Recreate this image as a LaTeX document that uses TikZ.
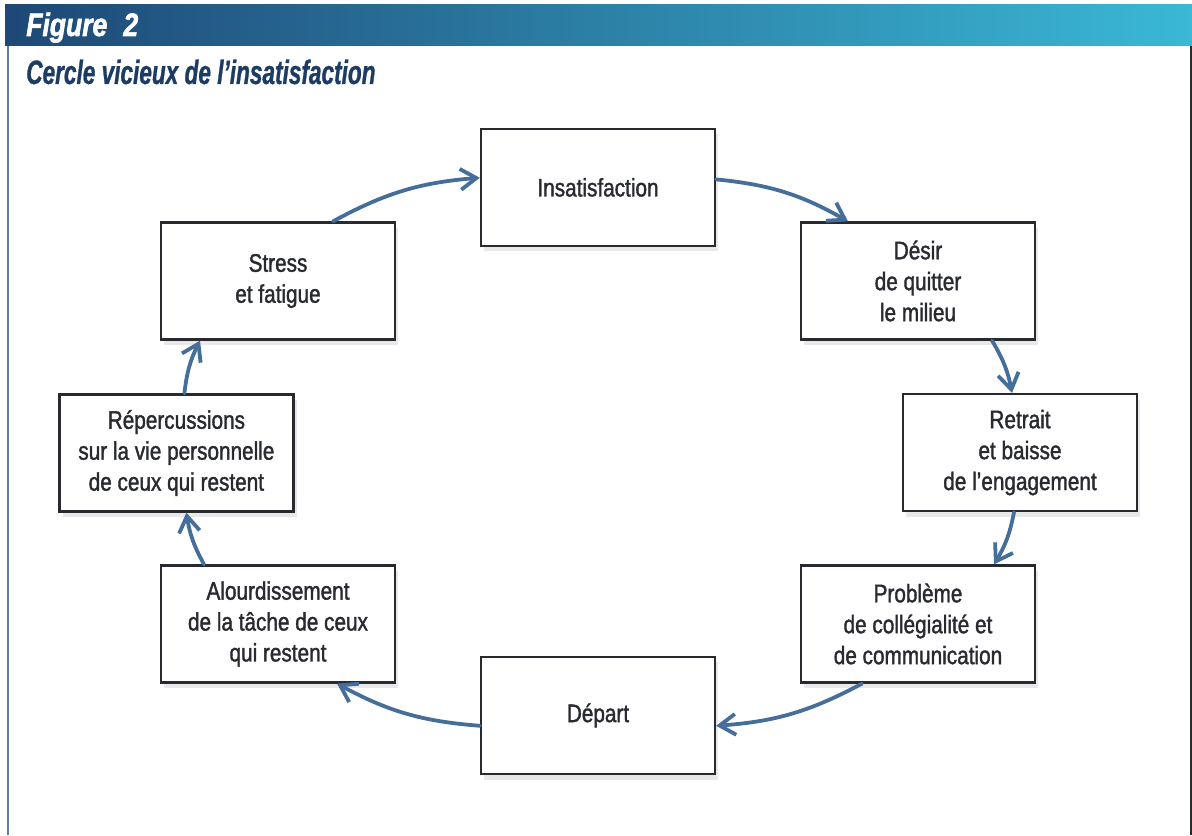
\documentclass[tikz,border=0pt]{standalone}
\usepackage{fontspec}
\setmainfont{Liberation Sans}[FakeStretch=0.82, FakeBold=1.4]
\newfontfamily\titlefont{Liberation Sans}[FakeStretch=0.67, FakeBold=0.8]
\newfontfamily\figfont{Liberation Sans}[FakeStretch=0.82, FakeBold=1.8]
\usetikzlibrary{arrows.meta,shadows}
\definecolor{barleft}{RGB}{30,72,118}
\definecolor{barright}{RGB}{58,184,214}
\definecolor{titleblue}{RGB}{28,60,100}
\definecolor{arrowblue}{RGB}{70,110,155}
\definecolor{boxline}{RGB}{40,42,48}
\definecolor{frameblue}{RGB}{95,125,160}

\begin{document}
\begin{tikzpicture}[every node/.style={scale=1},
    stage/.style={draw=boxline, line width=1.6pt, fill=white, minimum width=5.85cm,
      minimum height=2.925cm, align=center, text=boxline, font=\fontsize{18}{22}\selectfont,
      drop shadow={opacity=0.18, shadow xshift=0.08cm, shadow yshift=-0.14cm}},
    cycle/.style={draw=arrowblue, line width=2.7pt, line cap=round,
      -{Straight Barb[length=4mm, width=5.2mm, line width=2.7pt]}}]

      \useasboundingbox (0,0) rectangle (29.8,20.875);
      \shade[left color=barleft, right color=barright] (0.125,19.725) rectangle (29.8,20.75);
      \draw[frameblue, line width=1.5pt] (0.19,19.725) -- (0.19,0);
      \draw[boxline, line width=1pt] (29.77,19.725) -- (29.77,0);
      \node[anchor=base west, text=white, inner sep=0pt, font=\figfont\fontsize{23}{26}\selectfont\bfseries\itshape]
        (fig) at (0.65,19.975) {Figure\enspace 2};
      \node[anchor=base west, text=titleblue, font=\titlefont\fontsize{24}{28}\selectfont\bfseries\itshape, inner sep=0pt]
        (title) at (0.65,18.775) {Cercle vicieux de l’insatisfaction};

      \node [stage] (ins) at (14.95,16.19) {Insatisfaction};
      \node [stage] (des) at (22.95,13.85) {Désir\\ de quitter\\ le milieu};
      \node [stage] (ret) at (25.5,9.56) {Retrait\\ et baisse\\ de l’engagement};
      \node [stage] (pro) at (22.95,5.275) {Problème\\ de collégialité et\\ de communication};
      \node [stage] (dep) at (14.95,2.99) {Départ};
      \node [stage] (alo) at (6.95,5.275) {Alourdissement\\ de la tâche de ceux\\ qui restent};
      \node [stage] (rep) at (4.41,9.55) {Répercussions\\ sur la vie personnelle\\ de ceux qui restent};
      \node [stage] (str) at (6.95,13.85) {Stress\\ et fatigue};

      \draw [cycle] ([yshift=0.2cm]ins.east) to [bend left=12] ([xshift=-1.75cm]des.north);
      \draw [cycle] ([xshift=1.85cm]des.south) to [bend left=10] ([xshift=-0.2cm]ret.north);
      \draw [cycle] ([xshift=-0.15cm]ret.south) to [bend left=10] ([xshift=1.9cm]pro.north);
      \draw [cycle] ([xshift=-1.4cm]pro.south) to [bend left=12] ([yshift=-0.26cm]dep.east);
      \draw [cycle] ([yshift=-0.26cm]dep.west) to [bend left=12] ([xshift=1.475cm]alo.south);
      \draw [cycle] ([xshift=-1.85cm]alo.north) to [bend left=10] ([xshift=0.25cm]rep.south);
      \draw [cycle] ([xshift=0.2cm]rep.north) to [bend left=10] ([xshift=-1.95cm]str.south);
      \draw [cycle] ([xshift=1.375cm]str.north) to [bend left=12] ([yshift=0.24cm]ins.west);
\end{tikzpicture}
\end{document}
